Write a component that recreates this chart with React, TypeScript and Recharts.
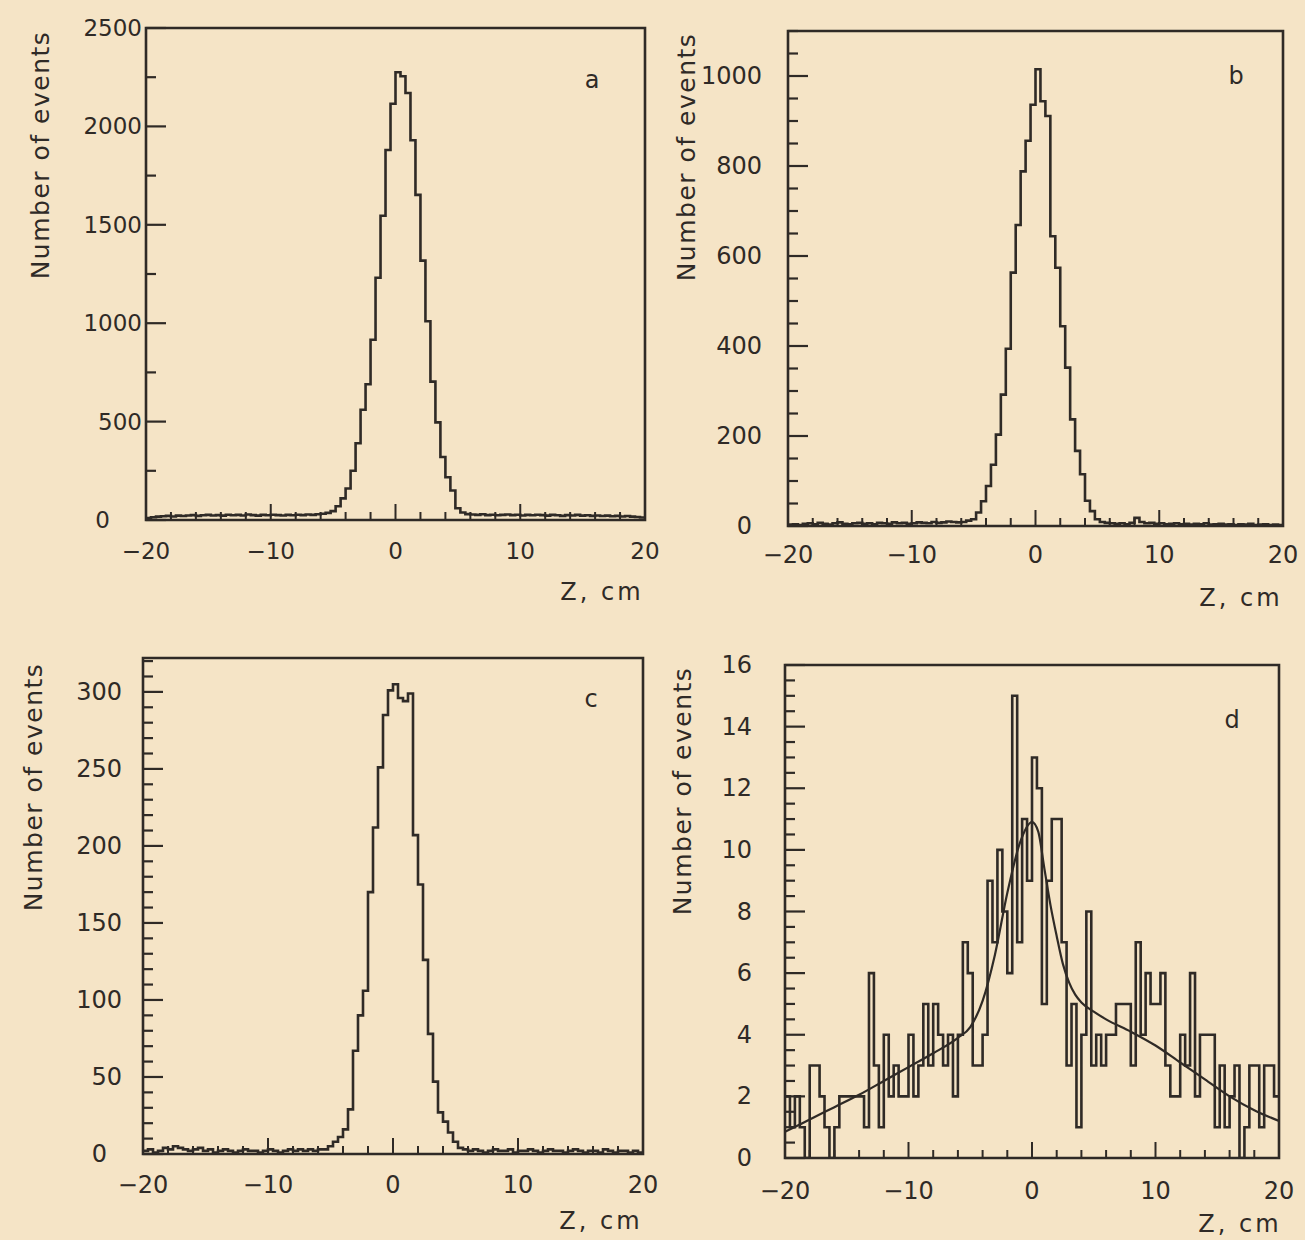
import React from "react";
import { ComposedChart, Line, XAxis, YAxis, ReferenceArea } from "recharts";

const INK = "#2f2a26";
const PAPER = "#f5e4c6";
const FONT = "'DejaVu Sans', Verdana, sans-serif";

// histograms: 100 bins of 0.4 cm from -20 to 20 cm
const Z_MIN = -20;
const Z_MAX = 20;
const BIN = 0.4;

const zTicks = [-20, -18, -16, -14, -12, -10, -8, -6, -4, -2, 0, 2, 4, 6, 8, 10, 12, 14, 16, 18, 20];
const zLabels = [-20, -10, 0, 10, 20];

// panel a
const countsA = [
  10, 14, 17, 19, 21, 18, 22, 20, 23, 25, 21, 24, 26, 23, 25, 22, 27, 24, 26, 23,
  28, 25, 22, 26, 24, 27, 25, 23, 26, 24, 27, 25, 28, 26, 29, 32,
  36, 45, 70, 110, 160, 250, 390, 560, 690, 916, 1231, 1546, 1880, 2115, 2275,
  2255, 2170, 1930, 1652, 1318, 1010, 703, 496, 320, 217, 150, 60, 38, 30,
  28, 26, 29, 25, 27, 24, 26, 28, 25, 27, 23, 26, 24, 27, 25, 22, 26, 24, 21, 25,
  23, 26, 22, 24, 21, 23, 20, 22, 19, 21, 18, 20, 17, 15, 13,
];

// panel b
const countsB = [
  3, 4, 2, 5, 6, 4, 7, 5, 3, 6, 8, 5, 4, 6, 7, 5, 6, 4, 7, 6,
  5, 8, 6, 7, 5, 6, 8, 7, 6, 9, 7, 8, 10, 9, 8, 9,
  12, 15, 30, 55, 89, 136, 203, 292, 394, 563, 669, 788, 856, 936, 1015,
  944, 911, 644, 574, 444, 352, 237, 167, 115, 56, 33, 15,
  9, 7, 6, 5, 6, 4, 7, 18, 9, 6, 7, 5, 6, 4, 5, 6, 4, 5, 3, 5,
  4, 6, 3, 4, 5, 3, 4, 2, 4, 3, 5, 2, 3, 4, 2, 3, 2,
];

// panel c
const countsC = [
  2, 3, 1, 2, 4, 3, 5, 4, 3, 2, 3, 4, 2, 3, 1, 2, 3, 2, 1, 2,
  3, 2, 2, 1, 2, 3, 2, 1, 2, 3, 2, 3, 2, 3, 2, 3,
  3, 5, 8, 11, 16, 29, 67, 90, 106, 170, 212, 251, 285, 301, 305,
  296, 294, 299, 207, 175, 126, 78, 47, 27, 21, 14, 8, 4,
  3, 2, 3, 2, 1, 2, 3, 2, 2, 3, 1, 2, 2, 3, 2, 1, 2, 3, 2, 2,
  1, 2, 3, 2, 1, 2, 2, 1, 3, 2, 1, 2, 2, 1, 2, 1,
];

// panel d
const countsD = [
  2, 1, 2, 1, 0, 3, 3, 2, 1, 0, 1, 2, 2, 2, 2, 2, 1, 6, 3, 1,
  4, 2, 3, 2, 2, 4, 2, 3, 5, 3, 5, 4, 3, 4, 2, 4, 7, 6, 3, 3,
  4, 9, 7, 10, 8, 6, 15, 7, 11, 9, 13, 12, 5, 9, 11, 11, 7, 3, 5, 1,
  4, 8, 3, 4, 3, 4, 4, 5, 5, 5, 3, 7, 4, 6, 5, 5, 6, 3, 2, 2,
  4, 3, 6, 2, 4, 4, 4, 1, 3, 1, 2, 3, 0, 1, 3, 3, 1, 3, 3, 2,
];

// fitted curve in panel d
const fitZ = [-20, -18, -16, -14, -12, -10, -8, -6, -5, -4, -3, -2, -1, 0, 0.5, 1, 1.5, 2, 2.5, 3, 3.5, 4, 5, 6, 8, 10, 12, 14, 16, 18, 20];
const fitN = [0.85, 1.25, 1.65, 2.05, 2.5, 2.95, 3.4, 3.9, 4.25, 5.1, 6.6, 8.6, 10.2, 10.9, 10.6, 9.4, 8.2, 7.2, 6.3, 5.7, 5.3, 5.05, 4.75, 4.5, 4.1, 3.65, 3.1, 2.55, 2.0, 1.55, 1.2];

function toSteps(counts: number[]) {
  const pts = counts.map((n, i) => ({ z: Math.round((Z_MIN + i * BIN) * 10) / 10, n }));
  pts.push({ z: Z_MAX, n: counts[counts.length - 1] });
  return pts;
}

const fitData = fitZ.map((z, i) => ({ z, f: fitN[i] }));

function stepTicks(max: number, step: number) {
  const out: number[] = [];
  for (let v = 0; v <= max + 1e-9; v += step) out.push(Math.round(v * 100) / 100);
  return out;
}

const YW = 140;
const MT = 20;
const MR = 20;
const XH = 70;
const LW = 2.6;

type PanelProps = {
  left: number;
  top: number;
  width: number;
  height: number;
  counts: number[];
  yMax: number;
  yStep: number;
  yMajor: number;
  gap: number;
  zeroGap: number;
  xLabelDy: number;
  fontSize: number;
  fit?: { z: number; f: number }[];
};

function Panel(p: PanelProps) {
  const yTicks = stepTicks(p.yMax, p.yStep);

  const ZTick = (props: any) => {
    const { x, y, payload } = props;
    const v = payload.value;
    const major = zLabels.includes(v);
    return (
      <g>
        <line x1={x} y1={y} x2={x} y2={y - (major ? 16 : 8)} stroke={INK} strokeWidth={2} />
        {major && (
          <text x={x} y={y + p.xLabelDy} textAnchor="middle" dominantBaseline="central"
            fill={INK} fontSize={p.fontSize} fontFamily={FONT}>
            {v < 0 ? "\u2212" + Math.abs(v) : String(v)}
          </text>
        )}
      </g>
    );
  };

  const NTick = (props: any) => {
    const { x, y, payload } = props;
    const v = payload.value;
    const r = v / p.yMajor;
    const major = Math.abs(r - Math.round(r)) < 1e-6;
    return (
      <g>
        <line x1={x} y1={y} x2={x + (major ? 20 : 10)} y2={y} stroke={INK} strokeWidth={2.2} />
        {major && (
          <text x={x - (v === 0 ? p.zeroGap : p.gap)} y={y} textAnchor="end" dominantBaseline="central"
            fill={INK} fontSize={p.fontSize} fontFamily={FONT}>
            {String(v)}
          </text>
        )}
      </g>
    );
  };

  return (
    <div style={{ position: "absolute", left: p.left - YW, top: p.top - MT }}>
      <ComposedChart
        width={YW + p.width + MR}
        height={MT + p.height + XH}
        margin={{ top: MT, right: MR, bottom: 0, left: 0 }}
      >
        <XAxis type="number" dataKey="z" domain={[Z_MIN, Z_MAX]} ticks={zTicks} interval={0}
          axisLine={false} tickLine={false} tickSize={0} tickMargin={0} height={XH}
          tick={ZTick} allowDataOverflow />
        <YAxis type="number" domain={[0, p.yMax]} ticks={yTicks} interval={0}
          axisLine={false} tickLine={false} tickSize={0} tickMargin={0} width={YW}
          tick={NTick} allowDataOverflow />
        <ReferenceArea x1={Z_MIN} x2={Z_MAX} y1={0} y2={p.yMax} fill="none" fillOpacity={0}
          stroke={INK} strokeWidth={LW} ifOverflow="visible" />
        <Line data={toSteps(p.counts)} dataKey="n" type="stepAfter" stroke={INK} strokeWidth={LW}
          dot={false} activeDot={false} isAnimationActive={false} />
        {p.fit && (
          <Line data={p.fit} dataKey="f" type="monotone" stroke={INK} strokeWidth={2.2}
            dot={false} activeDot={false} isAnimationActive={false} />
        )}
      </ComposedChart>
    </div>
  );
}

const textStyle: React.CSSProperties = {
  position: "absolute",
  fontFamily: FONT,
  color: INK,
  whiteSpace: "nowrap",
  lineHeight: 1,
};

function YTitle({ cx, cy }: { cx: number; cy: number }) {
  return (
    <div style={{ ...textStyle, left: cx, top: cy, fontSize: 25, letterSpacing: 1.5,
      transform: "translate(-50%, -50%) rotate(-90deg)" }}>
      Number of events
    </div>
  );
}

function XTitle({ cx, cy }: { cx: number; cy: number }) {
  return (
    <div style={{ ...textStyle, left: cx, top: cy, fontSize: 24, letterSpacing: 3,
      transform: "translate(-50%, -50%)" }}>
      Z, cm
    </div>
  );
}

function Letter({ cx, cy, ch }: { cx: number; cy: number; ch: string }) {
  return (
    <div style={{ ...textStyle, left: cx, top: cy, fontSize: 24, transform: "translate(-50%, -50%)" }}>
      {ch}
    </div>
  );
}

export default function App() {
  return (
    <div style={{ position: "absolute", left: 0, top: 0, width: 1305, height: 1240, background: PAPER, overflow: "hidden" }}>
      <Panel left={146} top={28} width={499} height={492} counts={countsA} yMax={2500} yStep={250}
        yMajor={500} gap={4} zeroGap={36} xLabelDy={31} fontSize={23} />
      <Panel left={788} top={31} width={495} height={495} counts={countsB} yMax={1100} yStep={50}
        yMajor={200} gap={26} zeroGap={36} xLabelDy={29} fontSize={24} />
      <Panel left={143} top={658} width={500} height={496} counts={countsC} yMax={322} yStep={10}
        yMajor={50} gap={21} zeroGap={36} xLabelDy={31} fontSize={24} />
      <Panel left={785} top={665} width={494} height={493} counts={countsD} yMax={16} yStep={0.5}
        yMajor={2} gap={33} zeroGap={33} xLabelDy={33} fontSize={24} fit={fitData} />

      <YTitle cx={40} cy={155} />
      <YTitle cx={686} cy={157} />
      <YTitle cx={33} cy={787} />
      <YTitle cx={682} cy={791} />

      <XTitle cx={602} cy={592} />
      <XTitle cx={1241} cy={598} />
      <XTitle cx={601} cy={1221} />
      <XTitle cx={1240} cy={1224} />

      <Letter cx={592} cy={80} ch="a" />
      <Letter cx={1236} cy={76} ch="b" />
      <Letter cx={591} cy={699} ch="c" />
      <Letter cx={1232} cy={720} ch="d" />
    </div>
  );
}
